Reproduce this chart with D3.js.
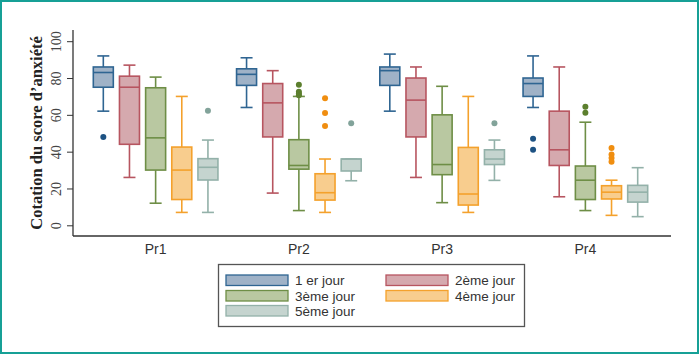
<!DOCTYPE html>
<html><head><meta charset="utf-8">
<script src="https://cdn.jsdelivr.net/npm/d3@7"></script>
<style>html,body{margin:0;padding:0;background:#fff;}svg{display:block;}</style>
</head><body>
<svg id="c" width="700" height="355"></svg>
<script>
const categories = ["Pr1","Pr2","Pr3","Pr4"];
const seriesNames = ["1 er jour","2ème jour","3ème jour","4ème jour","5ème jour"];
const yTicks = [0,20,40,60,80,100];
// [min whisker, Q1, median, Q3, max whisker] per series per category
const day1 = [[62,75,83,86,92],[64,76,82,85,91],[62,76,84,86,93],[64,70,77,80,92]];
const day2 = [[26,44,75,81,87],[17.5,48,66.5,77,84],[26,48,68,80,86],[15.5,32.5,41,62,86]];
const day3 = [[12,30,47.5,74.7,80.5],[8,30.5,32.5,46.5,70],[12.3,27.5,33,60,75.5],[8,14,24.5,32.2,56]];
const day4 = [[7,14,30,42.5,70],[7,13.7,17.7,28,36],[7,11,17,42.3,70],[5.4,14.3,18,21.5,24.5]];
const day5 = [[7,24.6,31.5,36.2,46.3],[24.2,29.5,36,36,36],[24.4,33,36,41,46.3],[4.7,12.6,18,21.7,31.3]];
const out1 = [[48],[],[],[47,41]];
const out2 = [[],[],[],[]];
const out3 = [[],[76.3,72.5,71.5,70.6],[],[64.4,61.2]];
const out4 = [[],[69,61,54],[],[42,38.5,36.5,34.5]];
const out5 = [[62.2],[55.4],[55.4],[]];

const stats = [day1,day2,day3,day4,day5];
const outliers = [out1,out2,out3,out4,out5];
const strokeCols = ["#2f6592","#b75560","#6e8e46","#f4a12c","#93b1a9"];
const fillCols = ["#9fb2c7","#d5a9ae","#b9c8a1","#f8cd8e","#c5d4cf"];
const dotCols = ["#1d5283","#b75560","#5c7f2e","#f08e10","#82a39a"];

const svg = d3.select("#c");
// outer frame
svg.append("rect").attr("x",1).attr("y",1).attr("width",697).attr("height",352)
  .attr("fill","none").attr("stroke","#16a096").attr("stroke-width",2);

const y = d3.scaleLinear().domain([0,100]).range([225.3,41.2]);
const x = d3.scaleBand().domain(categories).range([84,657]);
const xs = d3.scaleBand().domain(d3.range(5)).range([-65,65]).paddingInner(0.23).paddingOuter(0.1);
const bw = 20;

// axes lines
svg.append("line").attr("x1",73).attr("x2",73).attr("y1",30).attr("y2",236).attr("stroke","#333").attr("stroke-width",1.3);
svg.append("line").attr("x1",73).attr("x2",671).attr("y1",236).attr("y2",236).attr("stroke","#333").attr("stroke-width",1.3);

const yAxis = d3.axisLeft(y).tickValues(yTicks).tickSize(6).tickPadding(0).tickFormat(d3.format("d"));
const gy = svg.append("g").attr("transform","translate(73,0)").call(yAxis);
gy.select(".domain").remove();
gy.selectAll(".tick line").attr("stroke","#333");
gy.selectAll(".tick text").attr("transform","translate(-12,0) rotate(-90)")
  .attr("text-anchor","middle").attr("dy","0").attr("x",0).attr("y",0)
  .style("font-family","'Liberation Serif','DejaVu Serif',serif").style("font-size","14px").attr("fill","#444");

svg.append("text").attr("transform","translate(42,133) rotate(-90)").attr("text-anchor","middle")
  .style("font-family","'Liberation Serif',serif").style("font-weight","bold").style("font-size","16.5px")
  .attr("fill","#222").text("Cotation du score d’anxiété");

const xAxis = d3.axisBottom(x).tickSize(0).tickPadding(8);
const gx = svg.append("g").attr("transform","translate(0,236)").call(xAxis);
gx.select(".domain").remove();
gx.selectAll(".tick text").style("font-family","'Liberation Sans',sans-serif")
  .style("font-size","14px").attr("fill","#333");

categories.forEach((cat,ci)=>{
  const cx0 = x(cat) + x.bandwidth()/2;
  stats.forEach((s,si)=>{
    const [lo,q1,med,q3,hi] = s[ci];
    const cx = cx0 + xs(si) + xs.bandwidth()/2;
    const g = svg.append("g").attr("stroke",strokeCols[si]).attr("stroke-width",1.6).attr("fill","none");
    g.append("line").attr("x1",cx).attr("x2",cx).attr("y1",y(hi)).attr("y2",y(q3));
    g.append("line").attr("x1",cx).attr("x2",cx).attr("y1",y(q1)).attr("y2",y(lo));
    g.append("line").attr("x1",cx-6).attr("x2",cx+6).attr("y1",y(hi)).attr("y2",y(hi));
    g.append("line").attr("x1",cx-6).attr("x2",cx+6).attr("y1",y(lo)).attr("y2",y(lo));
    g.append("rect").attr("x",cx-bw/2).attr("width",bw).attr("y",y(q3)).attr("height",Math.max(0.5,y(q1)-y(q3)))
      .attr("fill",fillCols[si]);
    g.append("line").attr("x1",cx-bw/2).attr("x2",cx+bw/2).attr("y1",y(med)).attr("y2",y(med));
    outliers[si][ci].forEach(v=>{
      svg.append("circle").attr("cx",cx).attr("cy",y(v)).attr("r",3).attr("fill",dotCols[si]);
    });
  });
});

// legend
svg.append("rect").attr("x",218.5).attr("y",264.5).attr("width",306).attr("height",62)
  .attr("fill","#fff").attr("stroke","#555").attr("stroke-width",1.3);
const legPos = [[226,275],[386,275],[226,290.5],[386,290.5],[226,305.5]];
seriesNames.forEach((n,i)=>{
  const [lx,ly] = legPos[i];
  svg.append("rect").attr("x",lx).attr("y",ly).attr("width",62).attr("height",10.5)
    .attr("fill",fillCols[i]).attr("stroke",strokeCols[i]).attr("stroke-width",1.3);
  svg.append("text").attr("x",lx+69).attr("y",ly+10).text(n)
    .style("font-family","'Liberation Sans',sans-serif").style("font-size","13.5px").attr("fill","#333");
});
</script>
</body></html>
